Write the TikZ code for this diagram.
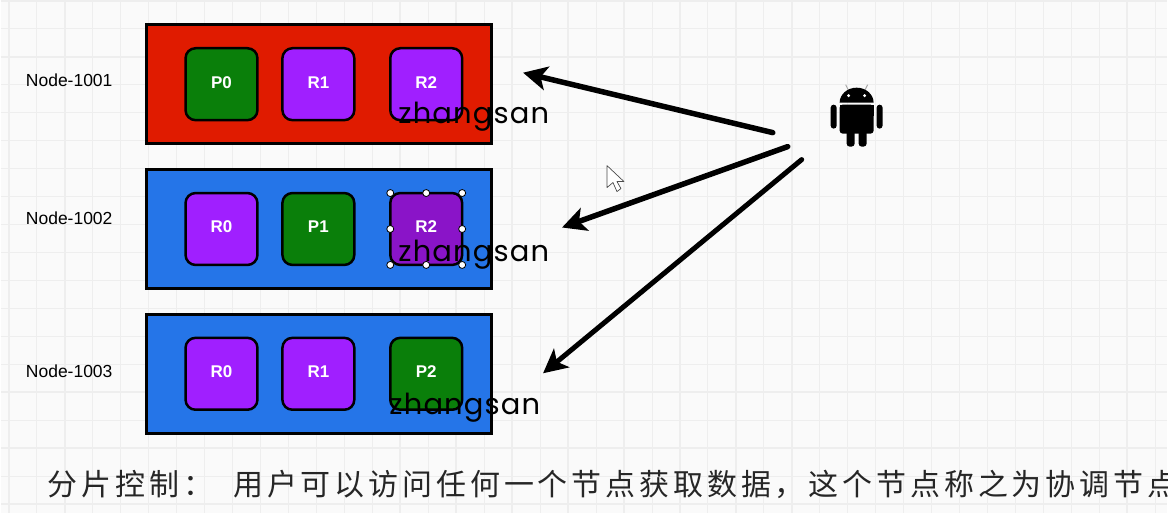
\documentclass[tikz,border=0pt]{standalone}
\usepackage{fontspec}
\usepackage{tikz}
\usetikzlibrary{positioning, arrows.meta}
\newfontfamily\labelfont{Liberation Sans}
\newfontfamily\namefont[LetterSpace=4]{Poppins}
\newfontfamily\cjkfont[LetterSpace=13]{Noto Sans CJK SC}
\definecolor{gridline}{HTML}{EEEEEE}
\definecolor{paper}{HTML}{FAFAFA}
\definecolor{nodered}{HTML}{E01B00}
\definecolor{nodeblue}{HTML}{2575E8}
\definecolor{leader}{HTML}{0A7F0A}
\definecolor{follower}{HTML}{A01FFF}
\definecolor{picked}{HTML}{8A14C8}
\begin{document}
\begin{tikzpicture}[
        x=1pt, y=-1pt,
        broker/.style={
          rectangle,
          draw=black,
          line width=3pt,
          minimum width=345pt,
          minimum height=119pt,
          inner sep=0pt,
          outer sep=0pt
        },
        shard/.style={
          rectangle,
          rounded corners=10pt,
          draw=black,
          line width=2.5pt,
          minimum width=72pt,
          minimum height=72pt,
          text=white,
          inner sep=0pt,
          outer sep=0pt,
          text height=12pt,
          text depth=4pt,
          font=\labelfont\fontsize{17}{17}\selectfont\bfseries
        },
        nodelabel/.style={
          anchor=west,
          inner sep=0pt,
          font=\labelfont\fontsize{17.5}{18}\selectfont
        },
        username/.style={
          anchor=west,
          inner sep=0pt,
          font=\namefont\fontsize{29}{30}\selectfont
        },
        handle/.style={
          circle,
          draw=black,
          fill=white,
          line width=0.8pt,
          minimum size=7pt,
          inner sep=0pt
        },
        arrow/.style={
          -{Stealth[length=24pt, width=24pt, inset=6pt]},
          draw=black,
          line width=5.5pt,
          line cap=round
        }
      ]

      % Background
      \fill [paper] (0,0) rectangle (1168,513);
      \foreach \x in {8,36,...,1168} \draw [gridline, line width=0.8pt] (\x,0) -- (\x,513);
      \foreach \y in {0,28,...,513} \draw [gridline, line width=0.8pt] (0,\y) -- (1168,\y);
      \foreach \x in {8,64,...,1168} \draw [gridline, line width=1.6pt] (\x,0) -- (\x,513);
      \foreach \y in {0,56,...,513} \draw [gridline, line width=1.6pt] (0,\y) -- (1168,\y);
      \useasboundingbox (0,0) rectangle (1168,513);

      % Nodes
      \node [broker, fill=nodered] (b1) at (318.5,83.5) {};
      \node [broker, fill=nodeblue, below=26pt of b1] (b2) {};
      \node [broker, fill=nodeblue, below=26pt of b2] (b3) {};

      \node [shard, fill=leader, right=39pt of b1.west] (s10) {P0};
      \node [shard, fill=follower, right=25pt of s10] (s11) {R1};
      \node [shard, fill=follower, right=36pt of s11] (s12) {R2};

      \node [shard, fill=follower, right=39pt of b2.west] (s20) {R0};
      \node [shard, fill=leader, right=25pt of s20] (s21) {P1};
      \node [shard, fill=picked, right=36pt of s21] (s22) {R2};

      \node [shard, fill=follower, right=39pt of b3.west] (s30) {R0};
      \node [shard, fill=follower, right=25pt of s30] (s31) {R1};
      \node [shard, fill=leader, right=36pt of s31] (s32) {P2};

      \node [nodelabel] (n1) at (25,80) {Node-1001};
      \node [nodelabel] (n2) at (25,218) {Node-1002};
      \node [nodelabel] (n3) at (25,371) {Node-1003};

      \node [username] (u1) at (398,116) {zhangsan};
      \node [username] (u2) at (398,254) {zhangsan};
      \node [username] (u3) at (389,407) {zhangsan};

      % Selection handles
      \foreach \a in {north west, north, north east, east, south east, south, south west, west}
        \node [handle] (h-\a) at (s22.\a) {};

      % Android
      \draw [gray!70, line width=1pt] (849,90) -- (846,84);
      \draw [gray!70, line width=1pt] (865,90) -- (868,84);
      \fill [black] (840,102) arc[start angle=180, end angle=0, x radius=17pt, y radius=15pt] -- cycle;
      \fill [black, rounded corners=3pt] (840,104) rectangle (874,133);
      \fill [black] (840,104) rectangle (874,115);
      \fill [white] (849,95) circle (1.6pt) (865,95) circle (1.6pt);
      \fill [black, rounded corners=3pt] (831,104) rectangle (837,128);
      \fill [black, rounded corners=3pt] (877,104) rectangle (883,128);
      \fill [black, rounded corners=3pt] (847,128) rectangle (855,146);
      \fill [black, rounded corners=3pt] (859,128) rectangle (867,146);

      % Cursor
      \draw [black!70, fill=white, line width=0.7pt, line join=round]
        (607,165) -- (607,187) -- (613,182) -- (617,191) -- (621,188) -- (617,181) -- (624,181) -- cycle;

      % Arrows
      \coordinate (a1) at (773,132);
      \coordinate (a2) at (788,146);
      \coordinate (a3) at (802,159);
      \coordinate (t1) at (523,72);
      \coordinate (t2) at (562,227);
      \coordinate (t3) at (543,373);
      \draw [arrow] (a1) -- (t1);
      \draw [arrow] (a2) -- (t2);
      \draw [arrow, line width=5pt] (a3) -- (t3);

      % Caption
      \node [anchor=west, inner sep=0pt, text=black!85, font=\cjkfont\fontsize{30}{32}\selectfont] (cap) at (47,484)
        {分片控制：\hspace{20pt}用户可以访问任何一个节点获取数据，这个节点称之为协调节点};

    \end{tikzpicture}
\end{document}
